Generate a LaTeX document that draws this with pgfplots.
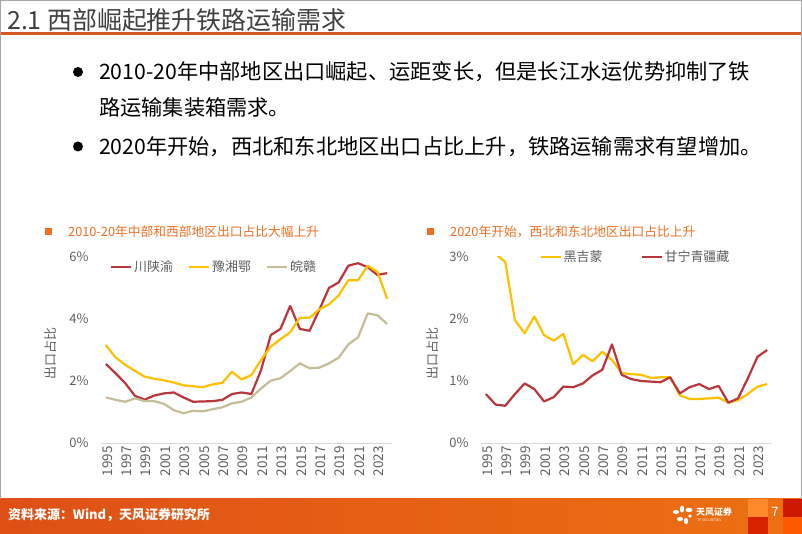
\documentclass[border=0pt]{standalone}
\usepackage{pgfplots}
\pgfplotsset{compat=1.18}
\usepackage{pgfplotstable}
\usepackage{fontspec}
\setmainfont{Noto Sans CJK SC}
\definecolor{redA}{RGB}{185,55,60}
\definecolor{yelA}{RGB}{255,192,0}
\definecolor{tanA}{RGB}{196,189,151}
\definecolor{orT}{RGB}{238,112,35}
\definecolor{orLine}{RGB}{213,87,34}
\definecolor{txtG}{RGB}{95,95,95}
\definecolor{axG}{RGB}{217,217,217}
\definecolor{footL}{RGB}{222,80,22}
\definecolor{footR}{RGB}{236,112,18}
\definecolor{ttlG}{RGB}{64,64,64}

\pgfplotstableread{
year a b c
1995 2.55 3.16 1.47
1996 2.25 2.76 1.39
1997 1.93 2.52 1.33
1998 1.52 2.33 1.44
1999 1.40 2.14 1.35
2000 1.53 2.07 1.35
2001 1.60 2.02 1.26
2002 1.63 1.95 1.06
2003 1.47 1.86 0.96
2004 1.33 1.83 1.04
2005 1.34 1.80 1.02
2006 1.35 1.89 1.09
2007 1.39 1.94 1.15
2008 1.58 2.30 1.28
2009 1.63 2.05 1.33
2010 1.58 2.19 1.47
2011 2.35 2.68 1.76
2012 3.48 3.11 2.01
2013 3.68 3.35 2.09
2014 4.42 3.57 2.32
2015 3.68 4.04 2.57
2016 3.62 4.04 2.41
2017 4.29 4.31 2.43
2018 5.00 4.47 2.57
2019 5.18 4.76 2.75
2020 5.72 5.25 3.18
2021 5.80 5.25 3.41
2022 5.67 5.72 4.18
2023 5.42 5.52 4.12
2024 5.48 4.65 3.84
}\leftdata

\pgfplotstableread{
year d e
1995 3.40 0.79
1996 3.05 0.62
1997 2.92 0.60
1998 1.98 0.79
1999 1.77 0.96
2000 2.04 0.87
2001 1.74 0.67
2002 1.65 0.74
2003 1.76 0.91
2004 1.27 0.90
2005 1.42 0.96
2006 1.32 1.09
2007 1.47 1.18
2008 1.34 1.59
2009 1.13 1.10
2010 1.11 1.03
2011 1.10 1.00
2012 1.05 0.99
2013 1.06 0.98
2014 1.06 1.06
2015 0.77 0.80
2016 0.71 0.90
2017 0.71 0.95
2018 0.72 0.87
2019 0.73 0.92
2020 0.65 0.65
2021 0.69 0.72
2022 0.79 1.04
2023 0.91 1.39
2024 0.95 1.50
}\rightdata

\pgfplotsset{
  slide/.style={
    scale only axis, width=291bp, height=186bp,
    xmin=1994.5, xmax=2024.5, ymin=0,
    axis x line*=bottom, axis y line*=left,
    y axis line style={draw=none},
    x axis line style={draw=axG, line width=0.8bp},
    major tick length=0pt,
    xtick={1995,1997,...,2023},
    xticklabels={1995,1997,1999,2001,2003,2005,2007,2009,2011,2013,2015,2017,2019,2021,2023},
    tick label style={font=\fontsize{13}{13}\selectfont, text=txtG},
    xticklabel style={rotate=90, anchor=east, yshift=-1.5bp, font=\fontsize{13.5}{13.5}\selectfont},
    yticklabel style={anchor=east, xshift=-9bp},
    legend style={draw=none, fill=none, font=\fontsize{13}{13}\selectfont, text=txtG, inner sep=0pt},
    legend image code/.code={\draw[##1, line width=2.2bp] (0bp,0bp) -- (20bp,0bp);},
    every axis plot/.append style={line width=2.2bp, line join=round, mark=none},
  }
}

\begin{document}
\begin{tikzpicture}[x=1bp,y=1bp]
\fill[white] (0,0) rectangle (802,534);
\useasboundingbox (0,0) rectangle (802,534);

% title
\node[anchor=west, inner sep=0pt, text=ttlG, font=\fontsize{25}{25}\selectfont] at (7,514) {2.1 西部崛起推升铁路运输需求};
\fill[orLine] (0,498.5) rectangle (802,501.8);

% bullets
\fill[black] (78,462) circle (5);
\fill[black] (78,387.5) circle (5);
\node[anchor=west, inner sep=0pt, font=\fontsize{21.3}{21.3}\selectfont] at (99,462) {2010-20年中部地区出口崛起、运距变长，但是长江水运优势抑制了铁};
\node[anchor=west, inner sep=0pt, font=\fontsize{21.3}{21.3}\selectfont] at (99,427) {路运输集装箱需求。};
\node[anchor=west, inner sep=0pt, font=\fontsize{21.3}{21.3}\selectfont] at (99,387.5) {2020年开始，西北和东北地区出口占比上升，铁路运输需求有望增加。};

% chart titles
\fill[orT] (45,299) rectangle (52,306);
\node[anchor=west, inner sep=0pt, text=orT, font=\fontsize{12.8}{12.8}\selectfont] at (68,302.5) {2010-20年中部和西部地区出口占比大幅上升};
\fill[orT] (427,299) rectangle (434,306);
\node[anchor=west, inner sep=0pt, text=orT, font=\fontsize{12.8}{12.8}\selectfont] at (450,302.5) {2020年开始，西北和东北地区出口占比上升};

% left chart
\begin{axis}[slide, at={(101bp,91bp)}, anchor=south west,
  ymax=6, ytick={0,2,4,6}, yticklabels={0\%,2\%,4\%,6\%},
  ylabel={出口占比},
  every axis y label/.style={at={(axis description cs:-0.172,0.48)}, rotate=90, anchor=center, font=\fontsize{13}{13}\selectfont, text=txtG},
  legend columns=3,
  legend style={at={(axis description cs:0.03,0.946)}, anchor=west,
    /tikz/every even column/.append style={column sep=13bp}},
]
\addplot[redA] table[x=year,y=a] {\leftdata};
\addlegendentry{川陕渝}
\addplot[yelA] table[x=year,y=b] {\leftdata};
\addlegendentry{豫湘鄂}
\addplot[tanA] table[x=year,y=c] {\leftdata};
\addlegendentry{皖赣}
\end{axis}

% right chart
\begin{axis}[slide, at={(481bp,91bp)}, anchor=south west,
  ymax=3, ytick={0,1,2,3}, yticklabels={0\%,1\%,2\%,3\%},
  ylabel={出口占比},
  every axis y label/.style={at={(axis description cs:-0.168,0.48)}, rotate=90, anchor=center, font=\fontsize{13}{13}\selectfont, text=txtG},
  legend columns=2,
  legend style={at={(axis description cs:0.2,1.0)}, anchor=west,
    /tikz/every even column/.append style={column sep=36bp}},
]
\addplot[yelA] table[x=year,y=d] {\rightdata};
\addlegendentry{黑吉蒙}
\addplot[redA] table[x=year,y=e] {\rightdata};
\addlegendentry{甘宁青疆藏}
\end{axis}

% footer
\shade[left color=footL, right color=footR] (0,0) rectangle (802,35);
\fill[white!20!orange!90!red] (748,17) rectangle (768,35);
\fill[red!70!orange!85!black] (748,0) rectangle (768,17);
\fill[footR] (768,0) rectangle (783,35);
\fill[red!75!orange!80!black] (783,17) rectangle (802,35);
\fill[orange!70!red] (783,0) rectangle (802,17);
\node[anchor=west, inner sep=0pt, text=white, font=\bfseries\fontsize{13}{13}\selectfont] at (8,19) {资料来源：Wind，天风证券研究所};
% logo
\fill[white] (682,25) ellipse (2.2 and 3.5);
\fill[white] (689,24) ellipse (3.5 and 2.2);
\fill[white] (676,22) ellipse (3.2 and 2);
\fill[white] (680,15) ellipse (3 and 2.2);
\fill[white] (686,13) ellipse (2.2 and 3.2);
\fill[white] (690,18) circle (1.8);
\node[anchor=west, inner sep=0pt, text=white, font=\bfseries\fontsize{9}{9}\selectfont] at (696,22) {天风证券};
\node[anchor=west, inner sep=0pt, text=white, font=\fontsize{3.5}{3.5}\selectfont] at (697,14) {TF SECURITIES};
\node[anchor=center, inner sep=0pt, text=white, font=\fontsize{13}{13}\selectfont] at (775,22) {7};

% frame
\draw[gray!70, line width=1.2bp] (0.6,35) -- (0.6,533.4) -- (801.4,533.4) -- (801.4,35);
\end{tikzpicture}
\end{document}
